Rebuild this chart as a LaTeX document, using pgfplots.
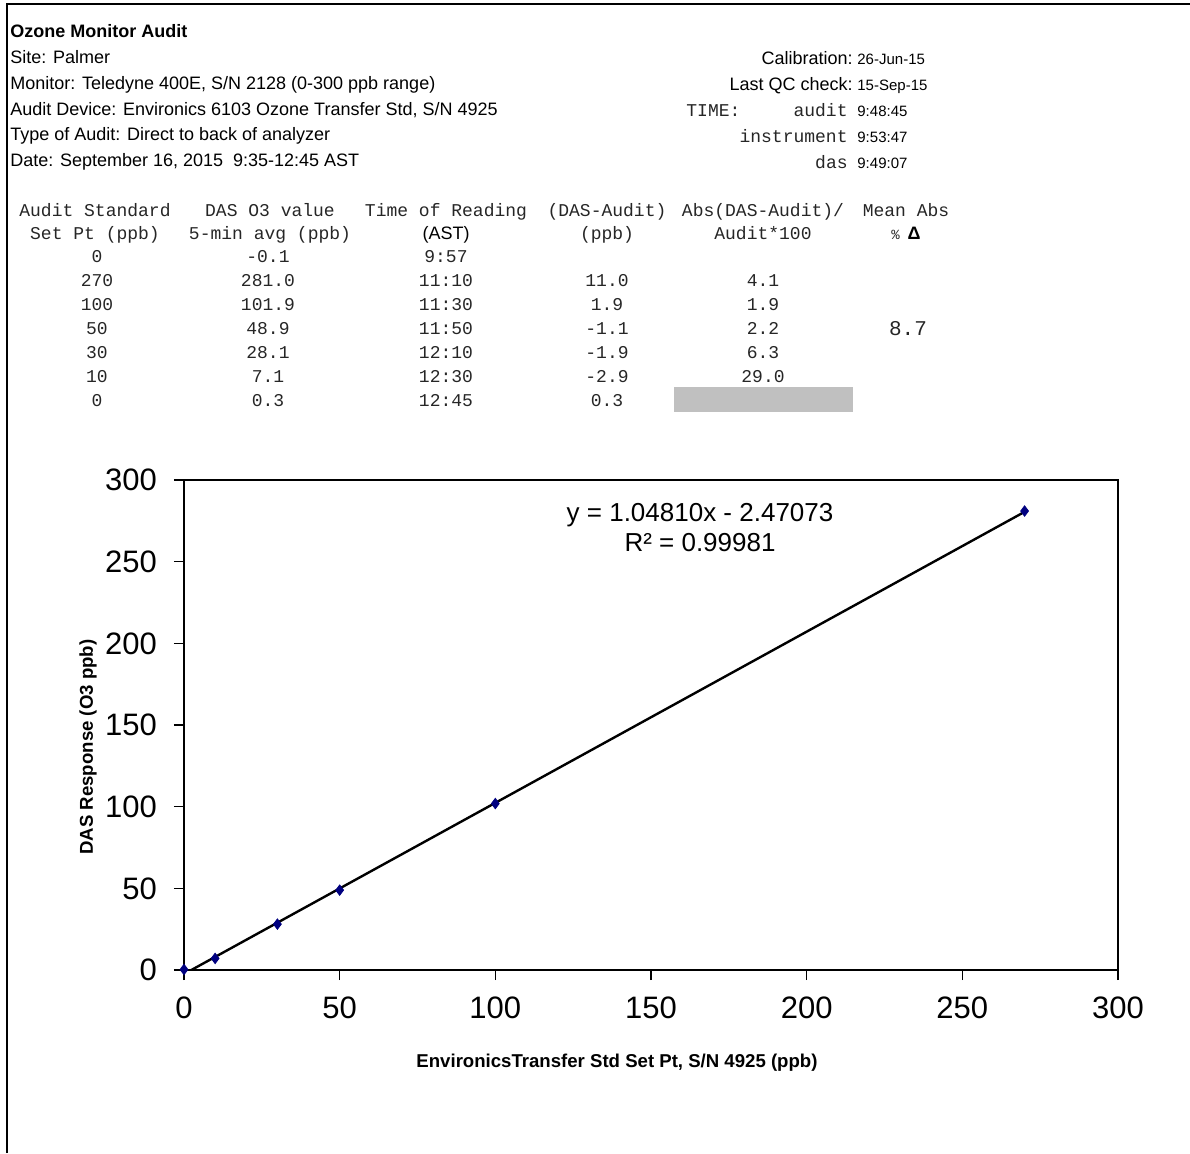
\documentclass[border=0pt]{standalone}
\usepackage{fontspec}
\setmainfont{Liberation Sans}
\setmonofont{Liberation Mono}
\usepackage{pgfplots}
\usepackage{pgfplotstable}
\pgfplotsset{compat=1.18}
\definecolor{marknavy}{HTML}{000080}
\definecolor{cellgrey}{HTML}{C0C0C0}
\definecolor{monotext}{HTML}{262626}

\newcommand{\hdr}{\fontsize{9}{11}\selectfont}
\newcommand{\val}{\fontsize{7.5}{9}\selectfont}
\newcommand{\mono}{\ttfamily\fontsize{9}{11}\selectfont\color{monotext}}

% audit set point vs DAS 5-min average
\pgfplotstableread{
x     y
0    -0.1
270  281.0
100  101.9
50   48.9
30   28.1
10   7.1
0    0.3
}\auditdata

\begin{document}
\begin{tikzpicture}
\begin{scope}[x=0.5pt,y=-0.5pt,every node/.style={inner sep=0pt}]
\path[use as bounding box] (0,0) rectangle (1190,1153);
\draw[line width=0.8pt] (7,1153) -- (7,4) -- (1190,4);

% header block
\node[anchor=base west] at (10,37.5) {\hdr\bfseries Ozone Monitor Audit};
\node[anchor=base west] at (10,63.5) {\hdr Site: Palmer};
\node[anchor=base west] at (10,89.5) {\hdr Monitor: Teledyne 400E, S/N 2128 (0-300 ppb range)};
\node[anchor=base west] at (10,115.5) {\hdr Audit Device: Environics 6103 Ozone Transfer Std, S/N 4925};
\node[anchor=base west] at (10,140.5) {\hdr Type of Audit: Direct to back of analyzer};
\node[anchor=base west] at (10,166.5) {\hdr Date: September 16, 2015\ \ 9:35-12:45 AST};

\node[anchor=base east] at (853,64.5) {\hdr Calibration:};
\node[anchor=base east] at (853,90.5) {\hdr Last QC check:};
\node[anchor=base west] at (686,116.5) {\mono TIME:};
\node[anchor=base east] at (848,116.5) {\mono audit};
\node[anchor=base east] at (848,142.5) {\mono instrument};
\node[anchor=base east] at (848,168.5) {\mono das};
\node[anchor=base west] at (857,64.5) {\val 26-Jun-15};
\node[anchor=base west] at (857,90.5) {\val 15-Sep-15};
\node[anchor=base west] at (857,116.5) {\val 9:48:45};
\node[anchor=base west] at (857,142.5) {\val 9:53:47};
\node[anchor=base west] at (857,168.5) {\val 9:49:07};

% table
\fill[cellgrey] (674,387) rectangle (853,412);
\node[anchor=base] at (95,216) {\mono Audit Standard};
\node[anchor=base] at (95,239) {\mono Set Pt (ppb)};
\node[anchor=base] at (270,216) {\mono DAS O3 value};
\node[anchor=base] at (270,239) {\mono 5-min avg (ppb)};
\node[anchor=base] at (446,216) {\mono Time of Reading};
\node[anchor=base] at (446,239) {\hdr (AST)};
\node[anchor=base] at (607,216) {\mono (DAS-Audit)};
\node[anchor=base] at (607,239) {\mono (ppb)};
\node[anchor=base] at (763,216) {\mono Abs(DAS-Audit)/};
\node[anchor=base] at (763,239) {\mono Audit*100};
\node[anchor=base] at (906,216) {\mono Mean Abs};
\node[anchor=base] at (906,239) {{\ttfamily\fontsize{7}{8}\selectfont\color{monotext}\%}\hspace{4pt}{\hdr\bfseries Δ}};
\foreach \ry/\a/\b/\c/\d/\e in {262/0/-0.1/9:57//, 286/270/281.0/11:10/11.0/4.1, 310/100/101.9/11:30/1.9/1.9, 334/50/48.9/11:50/-1.1/2.2, 358/30/28.1/12:10/-1.9/6.3, 382/10/7.1/12:30/-2.9/29.0, 406/0/0.3/12:45/0.3/}{
  \node[anchor=base] at (97,\ry) {\mono \a};
  \node[anchor=base] at (268,\ry) {\mono \b};
  \node[anchor=base] at (446,\ry) {\mono \c};
  \node[anchor=base] at (607,\ry) {\mono \d};
  \node[anchor=base] at (763,\ry) {\mono \e};
}
\node[anchor=base] at (908,335) {\ttfamily\fontsize{10.5}{12}\selectfont\color{monotext}8.7};
\end{scope}

\begin{axis}[
  at={(92pt,-485pt)}, anchor=south west,
  scale only axis, width=467pt, height=245pt,
  xmin=0, xmax=300, ymin=0, ymax=300,
  xtick={0,50,...,300}, ytick={0,50,...,300},
  tick align=outside, xtick pos=left, ytick pos=left,
  major tick length=5pt,
  axis line style={black, line width=0.6pt},
  tick style={black, line width=0.6pt},
  tick label style={font=\fontsize{15.5}{18}\selectfont},
  /pgf/number format/assume math mode=true,
  xticklabel style={yshift=-5pt},
  yticklabel style={xshift=-5pt},
  xlabel={EnvironicsTransfer Std Set Pt, S/N 4925 (ppb)},
  ylabel={DAS Response (O3 ppb)},
  xlabel style={at={(axis description cs:0.4636,-0.19)}, anchor=center, font=\fontsize{9.3}{11}\selectfont\bfseries},
  ylabel style={at={(axis description cs:-0.1028,0.455)}, anchor=center, font=\fontsize{9.3}{11}\selectfont\bfseries},
]
% linear trendline y = 1.04810x - 2.47073 over the data range
\addplot[black, line width=1.2pt, no marks] coordinates {(0,-2.47073) (270,280.51627)};
\addplot[only marks, mark=diamond*, mark size=2.6pt, mark options={fill=marknavy, draw=marknavy}] table[x=x,y=y] {\auditdata};
\node[align=center, font=\fontsize{13}{15}\selectfont] at (rel axis cs:0.5525,0.902) {y = 1.04810x - 2.47073\\R² = 0.99981};
\end{axis}
\end{tikzpicture}
\end{document}
